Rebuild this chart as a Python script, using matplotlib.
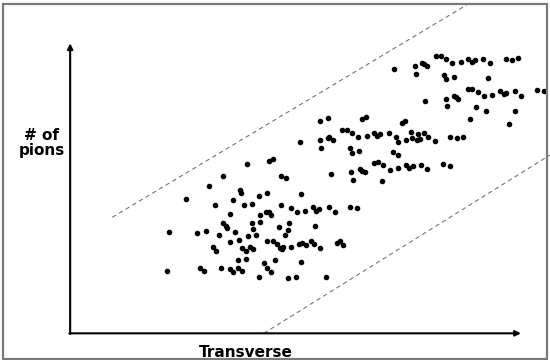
import numpy as np
import matplotlib.pyplot as plt

# dot positions (picture units, y grows downward)
upper_x = [1123, 1183, 1204, 1210, 1218, 1185, 1243, 1256, 1272, 1290, 1314, 1335,
           1345, 1353, 1378, 1396, 1442, 1461, 1476, 1267, 1271, 1293, 1391, 1212,
           1272, 1293, 1300, 1307, 1275, 1333, 1345, 1362, 1380, 1403, 1426, 1437,
           1442, 1468, 1486, 1532, 1550, 1357, 1385, 1468, 1341, 1452]
upper_y = [206, 198, 190, 193, 198, 222, 168, 168, 178, 190, 186, 177,
           185, 181, 177, 189, 176, 179, 175, 224, 238, 230, 234, 302,
           296, 287, 290, 296, 318, 266, 266, 275, 289, 284, 274, 283,
           278, 273, 287, 271, 274, 321, 332, 334, 358, 372]

middle_x = [912, 935, 1031, 1043, 1145, 1155, 974, 988, 1004, 1021, 1046, 1066,
            1076, 1083, 1109, 1128, 1134, 1157, 1172, 1176, 1189, 1192, 1197, 1210,
            1221, 1239, 1283, 1303, 1320, 913, 934, 939, 949, 855, 915, 997,
            1024, 1003, 1121, 1136, 1066, 1078, 1093, 1111, 1134, 1157, 1167, 1177,
            1200, 1218, 1264, 1283, 1001, 1026, 1031, 1040, 943, 1006, 1088, 705,
            768, 778, 801, 816, 636]
middle_y = [362, 354, 357, 351, 370, 364, 390, 390, 400, 412, 408, 399,
            408, 403, 398, 411, 426, 421, 397, 413, 419, 401, 416, 398,
            411, 424, 410, 413, 410, 420, 413, 410, 419, 426, 443, 444,
            452, 460, 455, 465, 488, 486, 496, 510, 505, 495, 505, 499,
            495, 508, 493, 497, 516, 508, 512, 517, 523, 540, 542, 491,
            484, 478, 527, 535, 527]

lower_x = [596, 685, 687, 739, 760, 858, 531, 613, 664, 695, 719, 801,
           829, 848, 869, 891, 900, 910, 937, 955, 999, 1019, 657, 741,
           759, 766, 774, 636, 645, 647, 669, 718, 742, 720, 794, 820,
           825, 899, 481, 563, 588, 624, 706, 730, 812, 655, 680, 762,
           779, 789, 797, 805, 808, 831, 852, 862, 873, 886, 896, 913,
           961, 969, 978, 606, 617, 689, 701, 713, 722, 679, 701, 752,
           784, 858, 475, 571, 581, 629, 655, 665, 679, 689, 738, 762,
           772, 821, 845, 928]
lower_y = [559, 570, 578, 587, 578, 581, 597, 614, 600, 616, 612, 614,
           624, 636, 632, 622, 632, 628, 622, 635, 621, 625, 642, 644,
           636, 637, 644, 668, 677, 685, 696, 670, 666, 688, 680, 690,
           670, 679, 695, 698, 694, 705, 708, 706, 706, 725, 721, 723,
           722, 733, 745, 748, 742, 742, 731, 728, 736, 722, 733, 745,
           730, 724, 734, 741, 752, 744, 752, 742, 746, 780, 776, 788,
           779, 787, 813, 805, 813, 805, 806, 817, 803, 813, 831, 805,
           815, 833, 830, 832]

# dashed band edges
band_top_x = [320, 1330]
band_top_y = [652, 15]
band_bot_x = [752, 1568]
band_bot_y = [1000, 465]


def main():
    fig = plt.figure(figsize=(5.5, 3.6), dpi=100)
    ax = fig.add_axes([0, 0, 1, 1])
    ax.set_xlim(0, 1568)
    ax.set_ylim(1080, 0)
    ax.axis("off")

    # outer grey frame
    fig.patches.append(plt.Rectangle((0.005, 0.004), 0.99, 0.986, transform=fig.transFigure,
                                     fill=False, edgecolor="#7a7a7a", lw=1.6))

    ax.plot(band_top_x, band_top_y, ls=(0, (4, 3)), color="#777777", lw=0.8)
    ax.plot(band_bot_x, band_bot_y, ls=(0, (4, 3)), color="#777777", lw=0.8)

    xs = upper_x + middle_x + lower_x
    ys = upper_y + middle_y + lower_y
    ax.scatter(xs, ys, s=9, color="black", zorder=3)

    # axes with arrow heads
    arrow = dict(arrowstyle="-|>", lw=1.5, color="black", mutation_scale=8, shrinkA=0, shrinkB=0)
    ax.annotate("", xy=(200, 130), xytext=(200, 1002), arrowprops=arrow)
    ax.annotate("", xy=(1485, 1000), xytext=(198, 1000), arrowprops=arrow)

    ax.text(118, 430, "# of\npions", ha="center", va="center", fontsize=11,
            fontweight="bold", family="DejaVu Sans", linespacing=1.0)
    ax.text(700, 1056, "Transverse", ha="center", va="center", fontsize=11,
            fontweight="bold", family="DejaVu Sans")

    fig.savefig("out.png", dpi=100)


if __name__ == "__main__":
    main()
